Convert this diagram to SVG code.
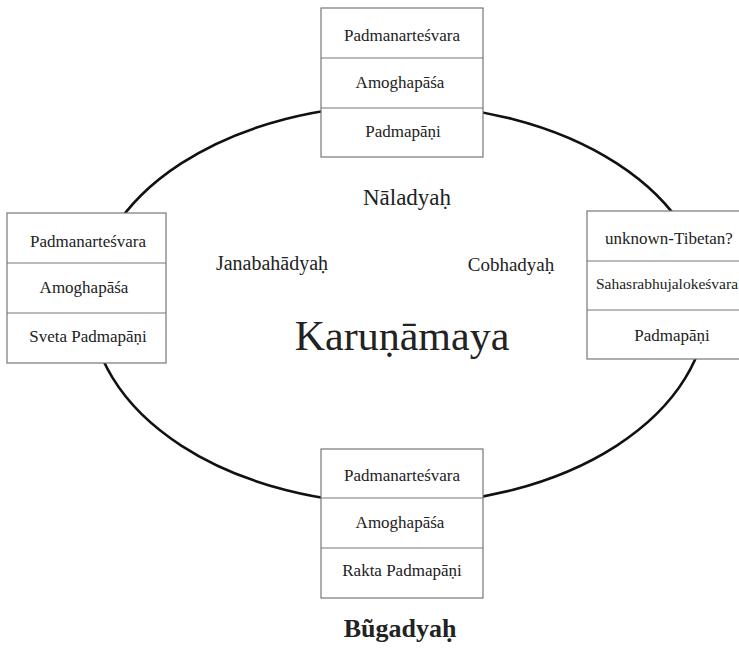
<svg xmlns="http://www.w3.org/2000/svg" width="739" height="654" viewBox="0 0 739 654">
<style>
.box{fill:#fff;stroke:#777;stroke-width:1.2}
.div{stroke:#777;stroke-width:1.2}
.t{font-family:"Liberation Serif","Times New Roman",serif;fill:#222;text-anchor:middle}
.bt{font-size:17px}
</style>
<rect width="739" height="654" fill="#fff"/>
<g id="connectors">
<ellipse cx="399" cy="304.5" rx="308" ry="199.5" fill="none" stroke="#111" stroke-width="2.6"/>
</g>
<g id="node-top">
<rect class="box" x="321" y="8" width="162" height="149"/>
<line class="div" x1="321" y1="58" x2="483" y2="58"/>
<line class="div" x1="321" y1="108" x2="483" y2="108"/>
<text class="t bt" x="402" y="41">Padmanarteśvara</text>
<text class="t bt" x="400" y="88">Amoghapāśa</text>
<text class="t bt" x="403" y="137">Padmapāṇi</text>
</g>
<g id="node-left">
<rect class="box" x="7" y="213" width="159" height="150"/>
<line class="div" x1="7" y1="263" x2="166" y2="263"/>
<line class="div" x1="7" y1="313" x2="166" y2="313"/>
<text class="t bt" x="88" y="247">Padmanarteśvara</text>
<text class="t bt" x="84" y="293">Amoghapāśa</text>
<text class="t bt" x="88" y="342">Sveta Padmapāṇi</text>
</g>
<g id="node-right">
<rect class="box" x="587" y="211" width="162" height="148"/>
<line class="div" x1="587" y1="261" x2="749" y2="261"/>
<line class="div" x1="587" y1="310" x2="749" y2="310"/>
<text class="t bt" x="669" y="244">unknown-Tibetan?</text>
<text class="t" font-size="15.5" x="667" y="289">Sahasrabhujalokeśvara</text>
<text class="t bt" x="672" y="341">Padmapāṇi</text>
</g>
<g id="node-bottom">
<rect class="box" x="321" y="449" width="162" height="149"/>
<line class="div" x1="321" y1="498" x2="483" y2="498"/>
<line class="div" x1="321" y1="548" x2="483" y2="548"/>
<text class="t bt" x="402" y="481">Padmanarteśvara</text>
<text class="t bt" x="400" y="528">Amoghapāśa</text>
<text class="t bt" x="402" y="576">Rakta Padmapāṇi</text>
</g>
<g id="labels">
<text class="t" font-size="23" x="407" y="205">Nāladyaḥ</text>
<text class="t" font-size="20" x="272" y="270">Janabahādyaḥ</text>
<text class="t" font-size="19" x="511" y="271">Cobhadyaḥ</text>
<text class="t" font-size="42" x="402" y="350">Karuṇāmaya</text>
<text class="t" font-size="26" font-weight="bold" x="400" y="637">Bũgadyaḥ</text>
</g>
</svg>
